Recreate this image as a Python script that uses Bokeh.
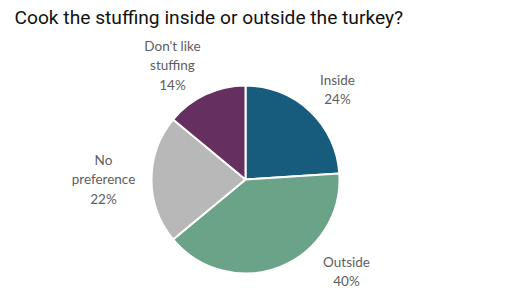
from math import pi

import numpy as np
from bokeh.core.properties import value
from bokeh.embed import file_html
from bokeh.models import ColumnDataSource, Range1d
from bokeh.plotting import figure
from bokeh.resources import INLINE

# Survey answers and their shares (percent)
categories = ["Inside", "Outside", "No preference", "Don't like stuffing"]
shares = [24, 40, 22, 14]
colors = ["#175c7c", "#6ba388", "#b8b8b8", "#652f60"]

# Label text lines as drawn around the pie
label_lines = ["Inside\n24%", "Outside\n40%", "No\npreference\n22%", "Don't like\nstuffing\n14%"]

TITLE = "Cook the stuffing inside or outside the turkey?"

W, H = 506, 300
CX, CY, R = 245, 300 - 179, 94

# Label anchor points in pixel coordinates (top of first line)
label_px = [(337, 71), (346, 253), (103, 151), (172, 37)]

fractions = np.array(shares) / sum(shares)
ends = np.cumsum(fractions)
starts = ends - fractions
start_angle = pi / 2 - starts * 2 * pi
end_angle = pi / 2 - ends * 2 * pi

src = ColumnDataSource(dict(
    cat=categories, start=start_angle, end=end_angle, color=colors,
))

p = figure(width=W, height=H, x_range=Range1d(0, W), y_range=Range1d(0, H),
           output_backend="svg", toolbar_location=None,
           x_axis_location=None, y_axis_location=None, min_border=0)
p.outline_line_color = None
p.grid.visible = False
p.background_fill_color = "white"

p.wedge(x=CX, y=CY, radius=R, start_angle="start", end_angle="end",
        direction="clock", fill_color="color", line_color="white",
        line_width=2, source=src)

lab_src = ColumnDataSource(dict(
    x=[xy[0] for xy in label_px],
    y=[H - xy[1] for xy in label_px],
    text=label_lines,
))
p.text(x="x", y="y", text="text", source=lab_src, text_align="center",
       text_baseline="top", text_font=value("Lato"), text_font_size="13.5px",
       text_color="#5e5e5e", text_line_height=1.24)

p.text(x=[14], y=[H - 5], text=[TITLE], text_align="left",
       text_baseline="top", text_font=value("Roboto"),
       text_font_size="19.2px", text_color="#111111")

open("out.html", "w").write(file_html(p, INLINE))
